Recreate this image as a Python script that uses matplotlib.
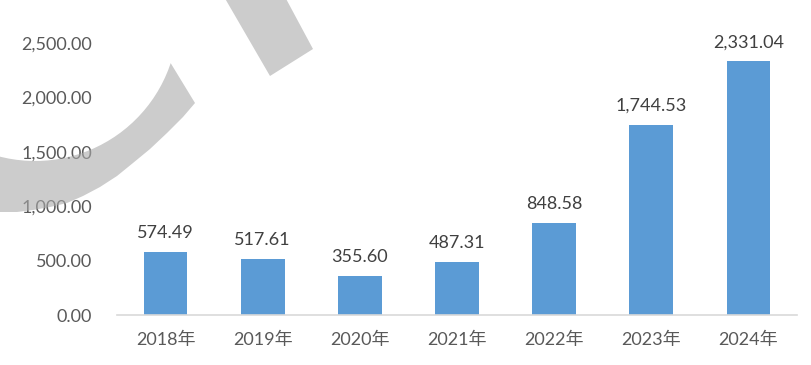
import numpy as np
from matplotlib import pyplot as plt
from matplotlib.patches import Polygon
from matplotlib.ticker import FuncFormatter

plt.rcParams['font.family'] = ['Lato', 'Noto Sans CJK SC', 'DejaVu Sans']

# chart data
years = ['2018年', '2019年', '2020年', '2021年', '2022年', '2023年', '2024年']
values = [574.49, 517.61, 355.60, 487.31, 848.58, 1744.53, 2331.04]
y_ticks = [0, 500, 1000, 1500, 2000, 2500]

W, H = 812, 365
fig = plt.figure(figsize=(W / 100, H / 100), dpi=100)
ax = fig.add_axes([117 / W, 1 - 315 / H, 680 / W, 272 / H])

x = np.arange(len(years))
bars = ax.bar(x, values, width=0.45, color='#5B9BD5', zorder=2)

for b, v in zip(bars, values):
    ax.annotate('{:,.2f}'.format(v), (b.get_x() + b.get_width() / 2, v),
                xytext=(0, 8), textcoords='offset points',
                ha='center', va='bottom', fontsize=13, color='#404040',
                annotation_clip=False)

ax.set_xlim(-0.5, len(years) - 0.5)
ax.set_ylim(0, 2500)
ax.set_xticks(x)
ax.set_xticklabels(years)
ax.set_yticks(y_ticks)
ax.yaxis.set_major_formatter(FuncFormatter(lambda v, p: '{:,.2f}'.format(v)))
ax.tick_params(axis='both', length=0, labelsize=13, colors='#595959')
ax.tick_params(axis='y', pad=18)
ax.tick_params(axis='x', pad=12)

for s in ['top', 'right', 'left']:
    ax.spines[s].set_visible(False)
ax.spines['bottom'].set_color('#D9D9D9')
ax.spines['bottom'].set_linewidth(1.2)


# grey watermark shapes over the chart (pixel coords, y from top)
def px(pts):
    return [(a / W, 1 - b / H) for a, b in pts]

outer = [(-20, 213), (0, 212), (17, 212), (33, 210), (50, 207), (67, 203),
         (83, 196), (100, 187), (117, 176), (133, 163), (150, 149),
         (167, 133), (183, 117), (195, 103)]
ang = np.radians(np.linspace(18.4, 110, 30))
inner = [(35 + 143 * np.cos(t), 18 + 143 * np.sin(t)) for t in ang]
arc = outer + inner
fig.patches.append(Polygon(px(arc), closed=True, transform=fig.transFigure,
                           facecolor='#AAAAAA', edgecolor='none', alpha=0.6,
                           zorder=10))

stripe = [(223, -5), (270, 76), (313, 49), (284, -5)]
fig.patches.append(Polygon(px(stripe), closed=True, transform=fig.transFigure,
                           facecolor='#AAAAAA', edgecolor='none', alpha=0.6,
                           zorder=10))

fig.savefig('out.png', dpi=100)
